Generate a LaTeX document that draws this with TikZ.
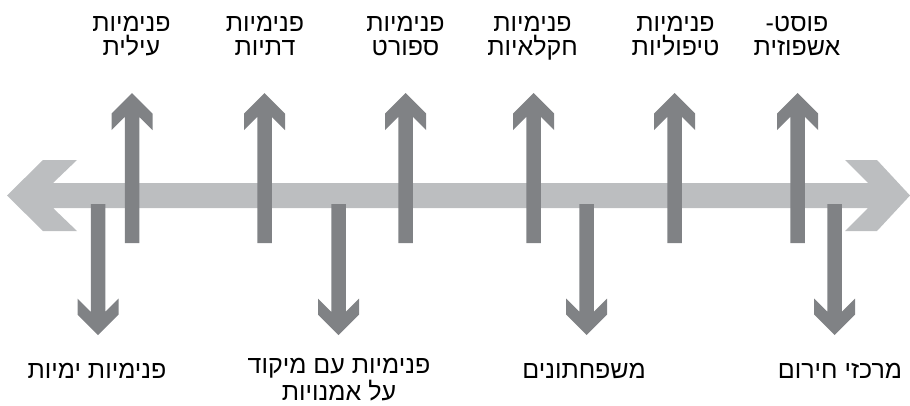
\documentclass[tikz,border=0pt]{standalone}
\usepackage{fontspec}
\newfontfamily\heb[Script=Hebrew]{Liberation Sans}
\TeXXeTstate=1
\newcommand\rl[1]{\beginR #1\endR}
\definecolor{barlight}{HTML}{BCBEC0}
\definecolor{bardark}{HTML}{808285}
\tikzset{
  lbl/.style={font=\heb\fontsize{25}{24}\selectfont, align=center, inner sep=0pt, text=black},
  uparr/.pic={\fill[bardark] (0,93) -- (-20.5,113.5) -- (-20.5,130) -- (-7.25,116.75) -- (-7.25,243) -- (7.25,243) -- (7.25,116.75) -- (20.5,130) -- (20.5,113.5) -- cycle;},
  dnarr/.pic={\fill[bardark] (-7.25,204) -- (-7.25,311.75) -- (-20.5,298.5) -- (-20.5,314.5) -- (0,335) -- (20.5,314.5) -- (20.5,298.5) -- (7.25,311.75) -- (7.25,204) -- cycle;}
}
\begin{document}
\begin{tikzpicture}[x=1pt,y=-1pt]
\useasboundingbox (0,0) rectangle (910,405);
% horizontal double arrow
\fill[barlight] (7,195.5) -- (43,160) -- (77,160) -- (53,183) -- (868,183) -- (845,160) -- (877,160) -- (910,195.5) -- (877,231) -- (845,231) -- (868,208) -- (53,208) -- (77,231) -- (43,231) -- cycle;
% up arrows
\foreach \cx in {132,264.5,405.5,533.5,674.5,797.5} { \pic at (\cx,0) {uparr}; }
% down arrows
\foreach \cx in {98,338.5,586.5,834.5} { \pic at (\cx,0) {dnarr}; }
% top labels (base = last line)
\node[lbl, anchor=base] (t1) at (131.5,55) {\rl{פנימיות}\\\rl{עילית}};
\node[lbl, anchor=base] (t2) at (265,55) {\rl{פנימיות}\\\rl{דתיות}};
\node[lbl, anchor=base] (t3) at (405.5,55) {\rl{פנימיות}\\\rl{ספורט}};
\node[lbl, anchor=base] (t4) at (532.5,55) {\rl{פנימיות}\\\rl{חקלאיות}};
\node[lbl, anchor=base] (t5) at (675.5,55) {\rl{פנימיות}\\\rl{טיפוליות}};
\node[lbl, anchor=base] (t6) at (797,55) {\rl{פוסט-}\\\rl{אשפוזית}};
% bottom labels
\node[lbl, anchor=base] (b1) at (97,378) {\rl{פנימיות ימיות}};
\node[lbl, anchor=base] (b2) at (339,400) {\rl{פנימיות עם מיקוד}\\\rl{על אמנויות}};
\node[lbl, anchor=base] (b3) at (584,378) {\rl{משפחתונים}};
\node[lbl, anchor=base] (b4) at (840,378) {\rl{מרכזי חירום}};
\end{tikzpicture}
\end{document}
